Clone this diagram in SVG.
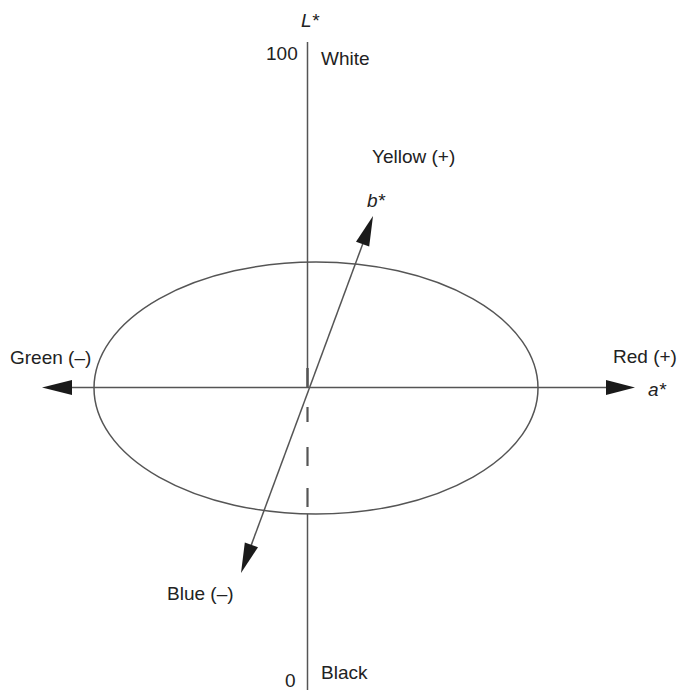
<svg xmlns="http://www.w3.org/2000/svg" width="678" height="690" viewBox="0 0 678 690">
<style>
.ln{stroke:#555;stroke-width:1.5;fill:none}
.ah{fill:#1a1a1a;stroke:none}
text{font-family:"Liberation Sans",Arial,sans-serif;font-size:19px;fill:#222}
.it{font-style:italic}
</style>
<rect width="678" height="690" fill="#fff"/>
<g id="connectors">
<line class="ln" x1="307.5" y1="42" x2="307.5" y2="388"/>
<line class="ln" x1="307.5" y1="368" x2="307.5" y2="388" style="stroke-width:2.5"/>
<line class="ln" x1="307.5" y1="407" x2="307.5" y2="422" style="stroke-width:2.2"/>
<line class="ln" x1="307.5" y1="447" x2="307.5" y2="466" style="stroke-width:2.2"/>
<line class="ln" x1="307.5" y1="488" x2="307.5" y2="507" style="stroke-width:2.2"/>
<line class="ln" x1="307.5" y1="514" x2="307.5" y2="690"/>
<line class="ln" x1="70" y1="387.5" x2="610" y2="387.5"/>
<polygon class="ah" points="42,387.5 72,380 72,395"/>
<polygon class="ah" points="635,387.5 606,380 606,395"/>
<line class="ln" x1="245" y1="562" x2="369" y2="227"/>
<polygon class="ah" points="373,216 369.2,246.5 356,241.7"/>
<polygon class="ah" points="241,573 258,547.3 244.8,542.5"/>
</g>
<g id="ellipse">
<ellipse class="ln" cx="316" cy="388" rx="222" ry="126"/>
</g>
<g id="L-axis">
<text class="it" x="301" y="27">L*</text>
<text x="266" y="60">100</text>
<text x="321" y="65">White</text>
<text x="285" y="687">0</text>
<text x="321" y="679">Black</text>
</g>
<g id="b-axis">
<text x="372" y="163">Yellow (+)</text>
<text class="it" x="367" y="207">b*</text>
<text x="167" y="600">Blue (–)</text>
</g>
<g id="a-axis">
<text x="10" y="364">Green (–)</text>
<text x="613" y="363">Red (+)</text>
<text class="it" x="648" y="396">a*</text>
</g>
</svg>
